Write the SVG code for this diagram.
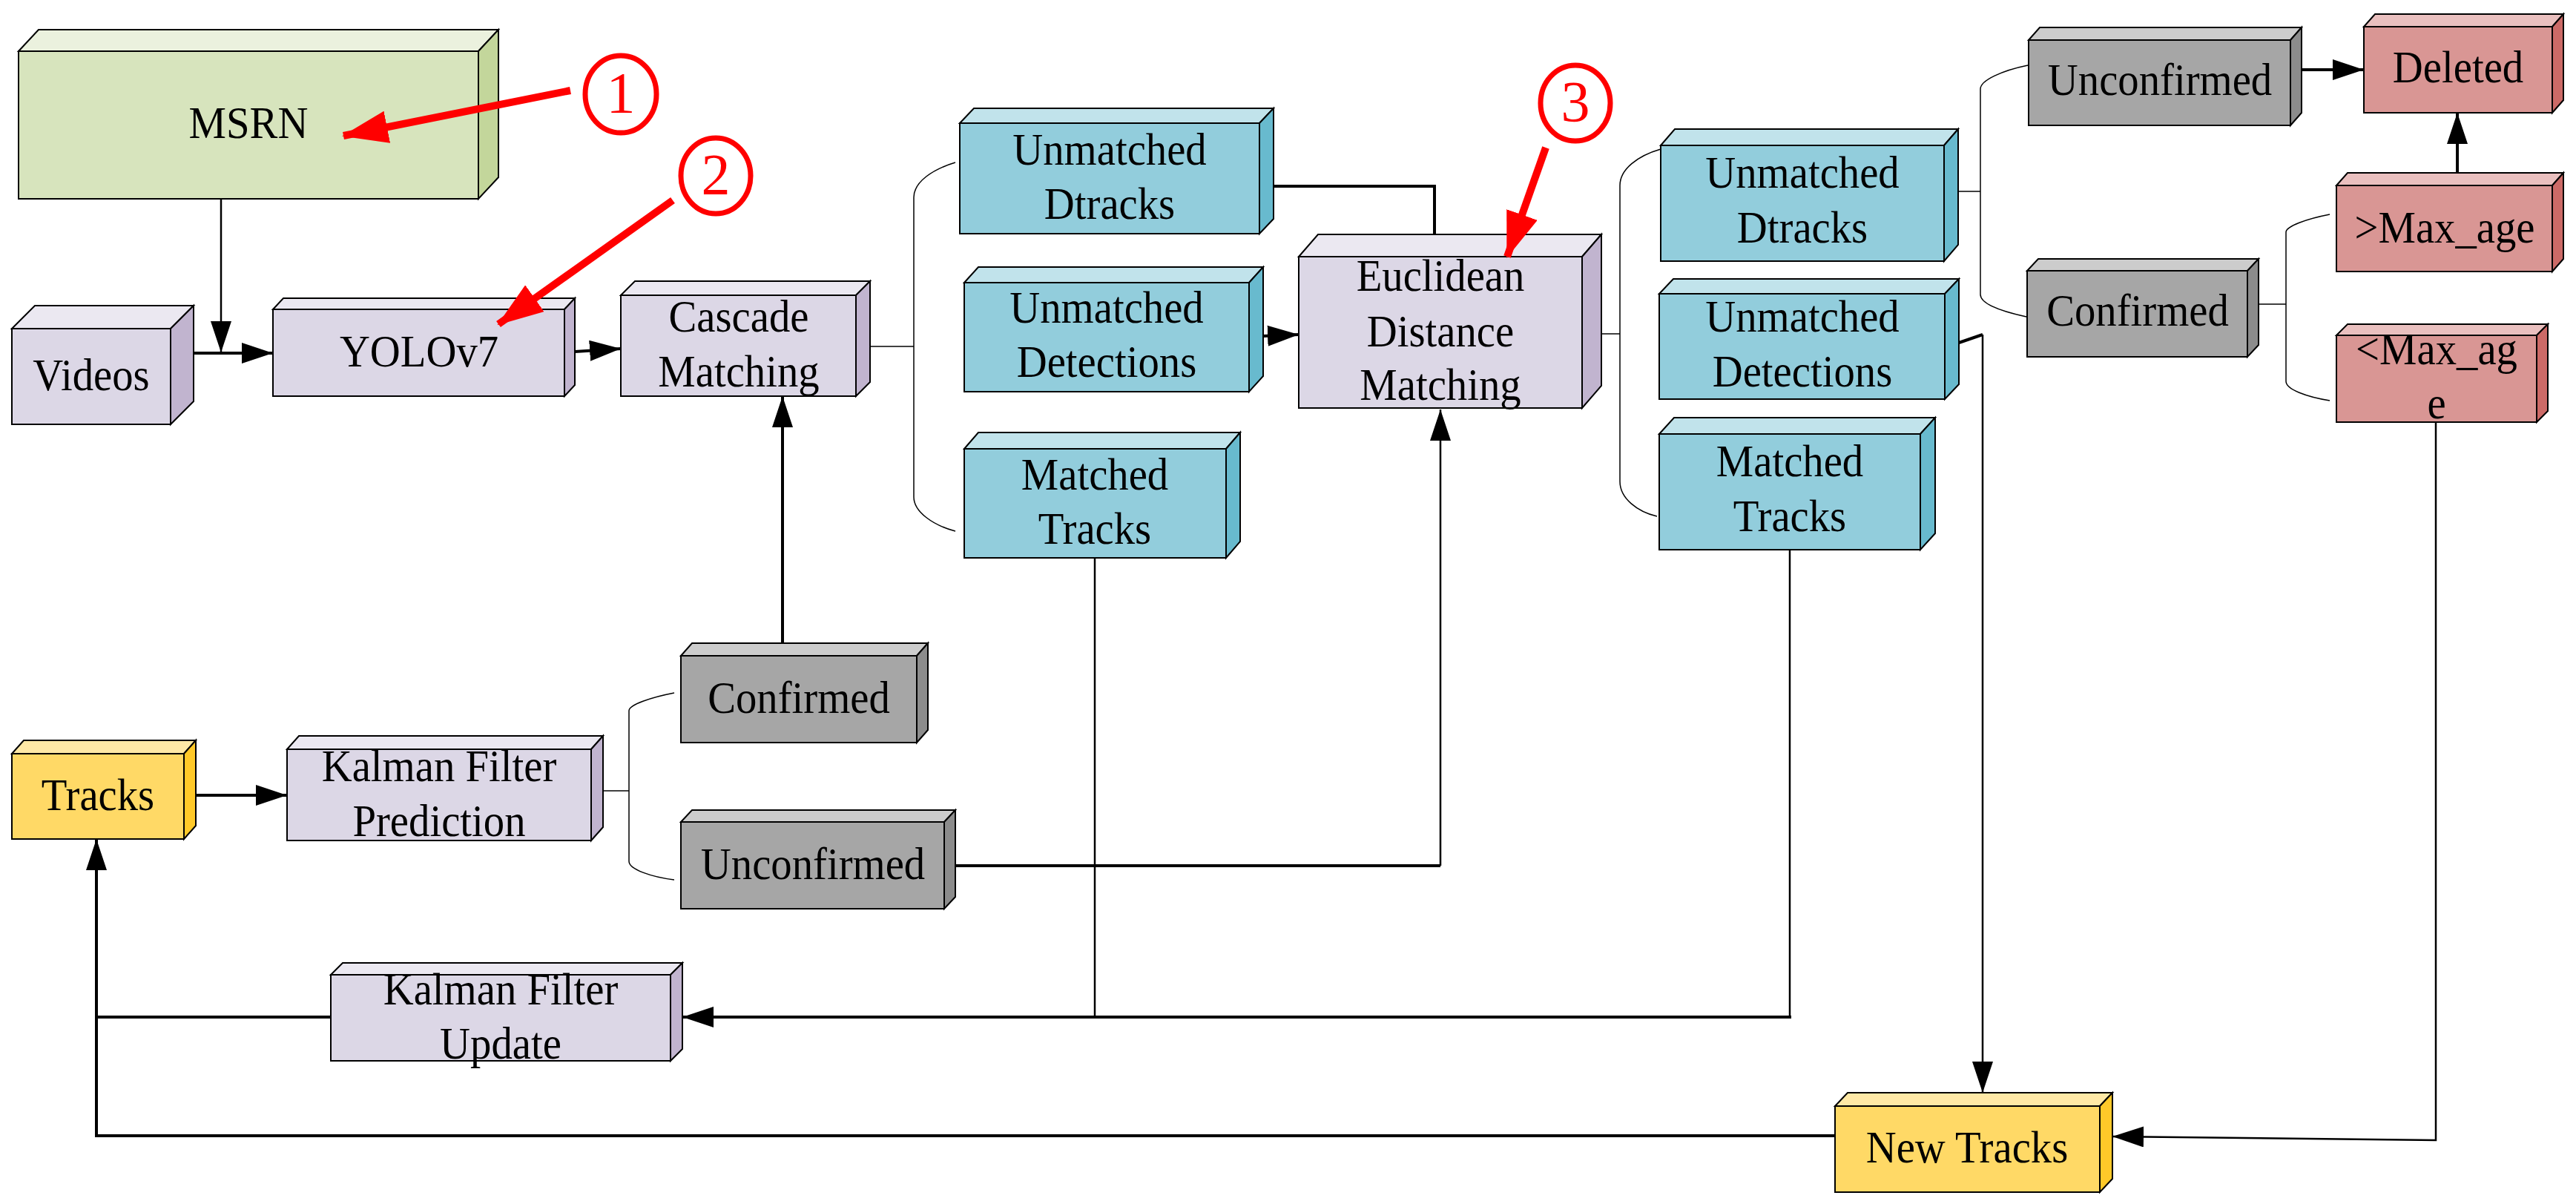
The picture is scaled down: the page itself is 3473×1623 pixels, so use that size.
<svg xmlns="http://www.w3.org/2000/svg" width="3473" height="1623" viewBox="0 0 3473 1623">
<defs>
<style>
.bx polygon,.bx rect{stroke:#000;stroke-width:2;stroke-linejoin:miter}
.lav .f{fill:#dcd7e6}.lav .t{fill:#ebe8f1}.lav .s{fill:#c1b4cf}
.grn .f{fill:#d7e4bd}.grn .t{fill:#ebf1de}.grn .s{fill:#c3d69b}
.cyn .f{fill:#92cddc}.cyn .t{fill:#c1e3eb}.cyn .s{fill:#68bace}
.gry .f{fill:#a6a6a6}.gry .t{fill:#cccccc}.gry .s{fill:#8c8c8c}
.red .f{fill:#d99694}.red .t{fill:#eac0bf}.red .s{fill:#cc6a67}
.yel .f{fill:#ffd966}.yel .t{fill:#ffe9a6}.yel .s{fill:#ffc929}
text.l{font-family:"Liberation Serif","Times New Roman",serif;font-size:61px;text-anchor:middle;fill:#000}
.th{fill:none;stroke:#000;stroke-width:4}
.tn{fill:none;stroke:#000;stroke-width:2.5}
.br{fill:none;stroke:#000;stroke-width:1.5}
.ann{fill:none;stroke:#ff0000;stroke-width:10}
.circ{fill:none;stroke:#ff0000;stroke-width:7}
text.n{font-family:"Liberation Serif","Times New Roman",serif;font-size:78px;text-anchor:middle;fill:#ff0000}
</style>
<marker id="ah" viewBox="0 0 42 28" refX="42" refY="14" markerWidth="42" markerHeight="28" markerUnits="userSpaceOnUse" orient="auto">
<path d="M0,0 L42,14 L0,28 z" fill="#000"/>
</marker>
<marker id="ra" viewBox="0 0 62 44" refX="60" refY="22" markerWidth="62" markerHeight="44" markerUnits="userSpaceOnUse" orient="auto">
<path d="M0,0 L62,22 L0,44 z" fill="#ff0000"/>
</marker>
</defs>

<g id="connectors">
<path class="tn" d="M298,268 V475" marker-end="url(#ah)"/>
<path class="th" d="M261,476 H368" marker-end="url(#ah)"/>
<path class="th" d="M775,474 L837,470" marker-end="url(#ah)"/>
<path class="br" d="M1173,467 H1232"/>
<path class="br" d="M1288,219 C1258,228 1232,245 1232,266 V670 C1232,690 1258,708 1288,716"/>
<path class="th" d="M1717,251 H1934 V316"/>
<path class="th" d="M1703,453 L1751,451" marker-end="url(#ah)"/>
<path class="th" d="M1288,1167 H1942"/>
<path class="tn" d="M1942,1167 V552" marker-end="url(#ah)"/>
<path class="tn" d="M1476,752 V1371"/>
<path class="tn" d="M2413,741 V1371"/>
<path class="th" d="M2415,1371 H920" marker-end="url(#ah)"/>
<path class="th" d="M1055,867 V534" marker-end="url(#ah)"/>
<path class="br" d="M2159,450 H2184"/>
<path class="br" d="M2239,201 C2208,210 2184,228 2184,250 V649 C2184,672 2208,690 2234,696"/>
<path class="br" d="M2640,258 H2670"/>
<path class="br" d="M2734,88 C2700,95 2670,108 2670,120 V397 C2670,410 2700,420 2732,427"/>
<path class="th" d="M3103,94 H3187" marker-end="url(#ah)"/>
<path class="th" d="M3313,233 V152" marker-end="url(#ah)"/>
<path class="br" d="M3045,410 H3082"/>
<path class="br" d="M3141,289 C3110,295 3082,305 3082,313 V514 C3082,525 3110,535 3141,540"/>
<path class="tn" d="M3284,569 V1537 L2848,1532" marker-end="url(#ah)"/>
<path class="th" d="M2641,462 L2673,451"/>
<path class="tn" d="M2673,451 V1473" marker-end="url(#ah)"/>
<path class="th" d="M264,1072 H387" marker-end="url(#ah)"/>
<path class="br" d="M813,1066 H848"/>
<path class="br" d="M909,934 C878,940 848,950 848,958 V1161 C848,1172 878,1182 909,1186"/>
<path class="th" d="M446,1371 H130"/>
<path class="th" d="M2474,1531 H130 V1131" marker-end="url(#ah)"/>
</g>

<g id="msrn" class="bx grn">
<polygon class="t" points="25,69 52,40 672,40 645,69"/>
<polygon class="s" points="645,69 672,40 672,239 645,268"/>
<rect class="f" x="25" y="69" width="620" height="199"/>
<text class="l" transform="translate(335 0) scale(0.93 1)" x="0" y="186">MSRN</text>
</g>
<g id="videos" class="bx lav">
<polygon class="t" points="16,443 47,412 261,412 230,443"/>
<polygon class="s" points="230,443 261,412 261,541 230,572"/>
<rect class="f" x="16" y="443" width="214" height="129"/>
<text class="l" transform="translate(123 0) scale(0.93 1)" x="0" y="526">Videos</text>
</g>
<g id="yolov7" class="bx lav">
<polygon class="t" points="368,417 382,402 775,402 761,417"/>
<polygon class="s" points="761,417 775,402 775,519 761,534"/>
<rect class="f" x="368" y="417" width="393" height="117"/>
<text class="l" transform="translate(565 0) scale(0.93 1)" x="0" y="494">YOLOv7</text>
</g>
<g id="cascade" class="bx lav">
<polygon class="t" points="837,398 856,379 1173,379 1154,398"/>
<polygon class="s" points="1154,398 1173,379 1173,515 1154,534"/>
<rect class="f" x="837" y="398" width="317" height="136"/>
<text class="l" transform="translate(996 0) scale(0.93 1)"><tspan x="0" y="447">Cascade</tspan><tspan x="0" y="521">Matching</tspan></text>
</g>
<g id="unmatched-dtracks-1" class="bx cyn">
<polygon class="t" points="1294,166 1313,146 1717,146 1698,166"/>
<polygon class="s" points="1698,166 1717,146 1717,295 1698,315"/>
<rect class="f" x="1294" y="166" width="404" height="149"/>
<text class="l" transform="translate(1496 0) scale(0.93 1)"><tspan x="0" y="222">Unmatched</tspan><tspan x="0" y="295">Dtracks</tspan></text>
</g>
<g id="unmatched-detections-1" class="bx cyn">
<polygon class="t" points="1300,381 1319,360 1703,360 1684,381"/>
<polygon class="s" points="1684,381 1703,360 1703,507 1684,528"/>
<rect class="f" x="1300" y="381" width="384" height="147"/>
<text class="l" transform="translate(1492 0) scale(0.93 1)"><tspan x="0" y="435">Unmatched</tspan><tspan x="0" y="508">Detections</tspan></text>
</g>
<g id="matched-tracks-1" class="bx cyn">
<polygon class="t" points="1300,605 1319,583 1672,583 1653,605"/>
<polygon class="s" points="1653,605 1672,583 1672,730 1653,752"/>
<rect class="f" x="1300" y="605" width="353" height="147"/>
<text class="l" transform="translate(1476 0) scale(0.93 1)"><tspan x="0" y="660">Matched</tspan><tspan x="0" y="733">Tracks</tspan></text>
</g>
<g id="euclidean" class="bx lav">
<polygon class="t" points="1751,346 1777,316 2159,316 2133,346"/>
<polygon class="s" points="2133,346 2159,316 2159,520 2133,550"/>
<rect class="f" x="1751" y="346" width="382" height="204"/>
<text class="l" transform="translate(1942 0) scale(0.93 1)"><tspan x="0" y="392">Euclidean</tspan><tspan x="0" y="467">Distance</tspan><tspan x="0" y="539">Matching</tspan></text>
</g>
<g id="unmatched-dtracks-2" class="bx cyn">
<polygon class="t" points="2239,196 2258,174 2640,174 2621,196"/>
<polygon class="s" points="2621,196 2640,174 2640,330 2621,352"/>
<rect class="f" x="2239" y="196" width="382" height="156"/>
<text class="l" transform="translate(2430 0) scale(0.93 1)"><tspan x="0" y="253">Unmatched</tspan><tspan x="0" y="327">Dtracks</tspan></text>
</g>
<g id="unmatched-detections-2" class="bx cyn">
<polygon class="t" points="2237,396 2256,376 2641,376 2622,396"/>
<polygon class="s" points="2622,396 2641,376 2641,518 2622,538"/>
<rect class="f" x="2237" y="396" width="385" height="142"/>
<text class="l" transform="translate(2430 0) scale(0.93 1)"><tspan x="0" y="447">Unmatched</tspan><tspan x="0" y="521">Detections</tspan></text>
</g>
<g id="matched-tracks-2" class="bx cyn">
<polygon class="t" points="2237,585 2257,563 2609,563 2589,585"/>
<polygon class="s" points="2589,585 2609,563 2609,719 2589,741"/>
<rect class="f" x="2237" y="585" width="352" height="156"/>
<text class="l" transform="translate(2413 0) scale(0.93 1)"><tspan x="0" y="642">Matched</tspan><tspan x="0" y="716">Tracks</tspan></text>
</g>
<g id="unconfirmed-top" class="bx gry">
<polygon class="t" points="2735,54 2750,37 3103,37 3088,54"/>
<polygon class="s" points="3088,54 3103,37 3103,152 3088,169"/>
<rect class="f" x="2735" y="54" width="353" height="115"/>
<text class="l" transform="translate(2912 0) scale(0.93 1)" x="0" y="128">Unconfirmed</text>
</g>
<g id="confirmed-right" class="bx gry">
<polygon class="t" points="2733,365 2748,349 3045,349 3030,365"/>
<polygon class="s" points="3030,365 3045,349 3045,465 3030,481"/>
<rect class="f" x="2733" y="365" width="297" height="116"/>
<text class="l" transform="translate(2882 0) scale(0.93 1)" x="0" y="439">Confirmed</text>
</g>
<g id="deleted" class="bx red">
<polygon class="t" points="3187,36 3202,19 3456,19 3441,36"/>
<polygon class="s" points="3441,36 3456,19 3456,135 3441,152"/>
<rect class="f" x="3187" y="36" width="254" height="116"/>
<text class="l" transform="translate(3314 0) scale(0.93 1)" x="0" y="111">Deleted</text>
</g>
<g id="gt-max-age" class="bx red">
<polygon class="t" points="3150,250 3165,233 3456,233 3441,250"/>
<polygon class="s" points="3441,250 3456,233 3456,349 3441,366"/>
<rect class="f" x="3150" y="250" width="291" height="116"/>
<text class="l" transform="translate(3296 0) scale(0.93 1)" x="0" y="327">&gt;Max_age</text>
</g>
<g id="lt-max-age" class="bx red">
<polygon class="t" points="3150,452 3165,437 3435,437 3420,452"/>
<polygon class="s" points="3420,452 3435,437 3435,554 3420,569"/>
<rect class="f" x="3150" y="452" width="270" height="117"/>
<text class="l" transform="translate(3285 0) scale(0.93 1)"><tspan x="0" y="491">&lt;Max_ag</tspan><tspan x="0" y="564">e</tspan></text>
</g>
<g id="tracks" class="bx yel">
<polygon class="t" points="16,1016 32,998 264,998 248,1016"/>
<polygon class="s" points="248,1016 264,998 264,1113 248,1131"/>
<rect class="f" x="16" y="1016" width="232" height="115"/>
<text class="l" transform="translate(132 0) scale(0.93 1)" x="0" y="1092">Tracks</text>
</g>
<g id="kalman-prediction" class="bx lav">
<polygon class="t" points="387,1010 403,992 813,992 797,1010"/>
<polygon class="s" points="797,1010 813,992 813,1115 797,1133"/>
<rect class="f" x="387" y="1010" width="410" height="123"/>
<text class="l" transform="translate(592 0) scale(0.93 1)"><tspan x="0" y="1053">Kalman Filter</tspan><tspan x="0" y="1127">Prediction</tspan></text>
</g>
<g id="confirmed-lower" class="bx gry">
<polygon class="t" points="918,884 933,867 1251,867 1236,884"/>
<polygon class="s" points="1236,884 1251,867 1251,984 1236,1001"/>
<rect class="f" x="918" y="884" width="318" height="117"/>
<text class="l" transform="translate(1077 0) scale(0.93 1)" x="0" y="961">Confirmed</text>
</g>
<g id="unconfirmed-lower" class="bx gry">
<polygon class="t" points="918,1108 933,1092 1288,1092 1273,1108"/>
<polygon class="s" points="1273,1108 1288,1092 1288,1209 1273,1225"/>
<rect class="f" x="918" y="1108" width="355" height="117"/>
<text class="l" transform="translate(1096 0) scale(0.93 1)" x="0" y="1185">Unconfirmed</text>
</g>
<g id="kalman-update" class="bx lav">
<polygon class="t" points="446,1314 462,1298 920,1298 904,1314"/>
<polygon class="s" points="904,1314 920,1298 920,1414 904,1430"/>
<rect class="f" x="446" y="1314" width="458" height="116"/>
<text class="l" transform="translate(675 0) scale(0.93 1)"><tspan x="0" y="1354">Kalman Filter</tspan><tspan x="0" y="1427">Update</tspan></text>
</g>
<g id="new-tracks" class="bx yel">
<polygon class="t" points="2474,1491 2491,1473 2848,1473 2831,1491"/>
<polygon class="s" points="2831,1491 2848,1473 2848,1589 2831,1607"/>
<rect class="f" x="2474" y="1491" width="357" height="116"/>
<text class="l" transform="translate(2652 0) scale(0.93 1)" x="0" y="1567">New Tracks</text>
</g>

<g id="annotation-1">
<path class="ann" d="M769,122 L463,183" marker-end="url(#ra)"/>
<ellipse class="circ" cx="837" cy="127" rx="48" ry="52"/>
<text class="n" x="837" y="151">1</text>
</g>
<g id="annotation-2">
<path class="ann" d="M907,270 L672,437" marker-end="url(#ra)"/>
<ellipse class="circ" cx="965" cy="237" rx="47" ry="51"/>
<text class="n" x="965" y="261">2</text>
</g>
<g id="annotation-3">
<path class="ann" d="M2084,199 L2032,346" marker-end="url(#ra)"/>
<ellipse class="circ" cx="2124" cy="139" rx="47" ry="51"/>
<text class="n" x="2124" y="163">3</text>
</g>
</svg>
